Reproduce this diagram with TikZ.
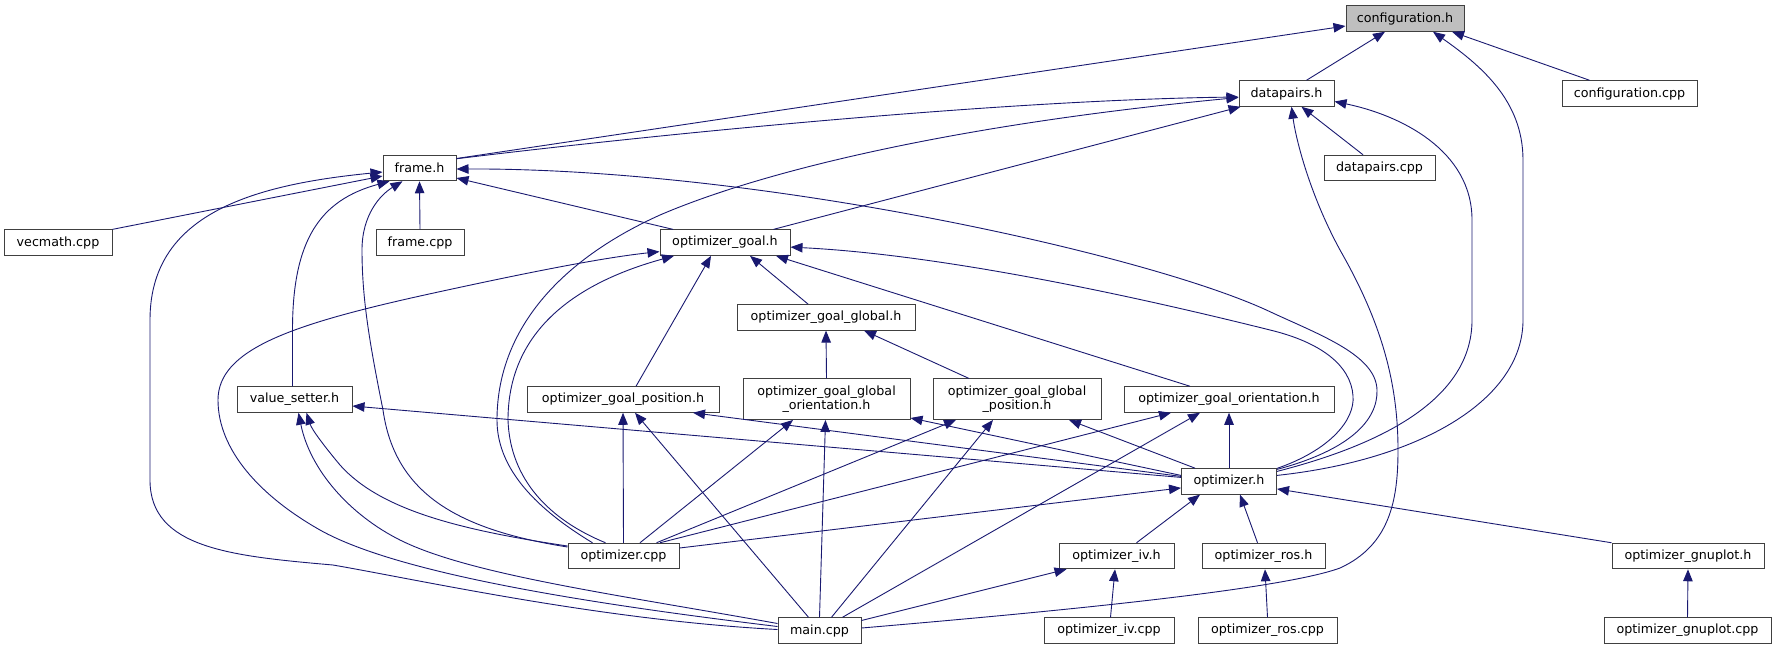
\documentclass[tikz,border=0pt]{standalone}
\usepackage{fontspec}
\setmainfont{DejaVu Sans}
\usetikzlibrary{arrows.meta}
\definecolor{edgeblue}{HTML}{191970}
\definecolor{boxgray}{HTML}{404040}
\definecolor{confgray}{HTML}{BFBFBF}
\newcommand\dxfont{\fontsize{12.7}{14.5}\selectfont}
\tikzset{
  box/.style={draw=boxgray, line width=1pt, rectangle, inner sep=0pt, minimum height=25.5pt, font=\dxfont, text=black, align=center},
  tall/.style={box, minimum height=40.5pt},
  e/.style={draw=edgeblue, line width=0.9pt, -{Triangle[length=12pt,width=9.5pt]}}
}
\begin{document}
\begin{tikzpicture}[x=1pt,y=-1pt]
\useasboundingbox (0,0) rectangle (1777,649);
% nodes
\node[box, fill=confgray, minimum width=118pt] (conf_h) at (1405,18.5) {configuration.h};
\node[box, minimum width=95pt] (datapairs_h) at (1286.5,93.5) {datapairs.h};
\node[box, minimum width=135pt] (conf_cpp) at (1629.5,93.5) {configuration.cpp};
\node[box, minimum width=73pt] (frame_h) at (419.5,168) {frame.h};
\node[box, minimum width=111pt] (datapairs_cpp) at (1379.5,168) {datapairs.cpp};
\node[box, minimum width=108pt] (vecmath_cpp) at (58,242.6) {vecmath.cpp};
\node[box, minimum width=88pt] (frame_cpp) at (420,242.6) {frame.cpp};
\node[box, minimum width=130pt] (goal_h) at (725,242.6) {optimizer\_goal.h};
\node[box, minimum width=178pt] (goal_global_h) at (826,317.3) {optimizer\_goal\_global.h};
\node[box, minimum width=115pt] (value_setter_h) at (294.5,399.5) {value\_setter.h};
\node[box, minimum width=192pt] (goal_pos_h) at (623,399.5) {optimizer\_goal\_position.h};
\node[tall, minimum width=167pt] (goal_glob_orient_h) at (826.5,399.2) {optimizer\_goal\_global\\\_orientation.h};
\node[tall, minimum width=168pt] (goal_glob_pos_h) at (1017,399.2) {optimizer\_goal\_global\\\_position.h};
\node[box, minimum width=210pt] (goal_orient_h) at (1229,399.5) {optimizer\_goal\_orientation.h};
\node[box, minimum width=95pt] (optimizer_h) at (1229,481.4) {optimizer.h};
\node[box, minimum width=111pt] (optimizer_cpp) at (623.5,556) {optimizer.cpp};
\node[box, minimum width=115pt] (iv_h) at (1116.5,556) {optimizer\_iv.h};
\node[box, minimum width=123pt] (ros_h) at (1263.5,556) {optimizer\_ros.h};
\node[box, minimum width=152pt] (gnuplot_h) at (1688,556) {optimizer\_gnuplot.h};
\node[box, minimum width=83pt] (main_cpp) at (819.5,630.5) {main.cpp};
\node[box, minimum width=130pt] (iv_cpp) at (1109,630.5) {optimizer\_iv.cpp};
\node[box, minimum width=139pt] (ros_cpp) at (1267.5,630.5) {optimizer\_ros.cpp};
\node[box, minimum width=167pt] (gnuplot_cpp) at (1687.5,630.5) {optimizer\_gnuplot.cpp};

% straight edges
\draw[e] ([xshift=20pt]datapairs_h.north) -- ([xshift=-20pt]conf_h.south);
\draw[e] ([xshift=-40pt]conf_cpp.north) -- ([xshift=47pt]conf_h.south);
\draw[e] ([yshift=-3.75pt]frame_h.north east) -- ([yshift=-7.5pt]conf_h.west);
\draw[e] ([yshift=-4pt]frame_h.north east) .. controls (650,135) and (1000,100) .. ([yshift=-3.5pt]datapairs_h.west);
\draw[e] (vecmath_cpp.north east) -- ([yshift=-8pt]frame_h.west);
\draw[e] (frame_cpp.north) -- (frame_h.south);
\draw[e] ([xshift=-52pt]goal_h.north) -- ([yshift=-10pt]frame_h.east);
\draw[e] ([xshift=-18pt]goal_global_h.north) -- ([xshift=25pt]goal_h.south);
\draw[e] ([xshift=13pt]goal_pos_h.north) -- ([xshift=-14pt]goal_h.south);
\draw[e] ([xshift=-39pt]goal_orient_h.north) -- ([xshift=51pt]goal_h.south);
\draw[e] ([xshift=-16.5pt]datapairs_cpp.north) -- ([xshift=15pt]datapairs_h.south);
\draw[e] ([xshift=-17pt]goal_h.north east) -- ([xshift=2pt]datapairs_h.south west);
\draw[e] (goal_glob_orient_h.north) -- (goal_global_h.south);
\draw[e] ([xshift=-48pt]goal_glob_pos_h.north) -- ([xshift=38pt]goal_global_h.south);
\draw[e] (optimizer_cpp.north) -- (goal_pos_h.south);
\draw[e] ([xshift=-11pt]main_cpp.north) -- ([xshift=12pt]goal_pos_h.south);
\draw[e] ([yshift=5pt]optimizer_h.west) -- ([xshift=70pt]goal_pos_h.south);
\draw[e] ([yshift=4pt]optimizer_h.west) -- ([yshift=-6.5pt]value_setter_h.east);
\draw[e] ([xshift=16.5pt]optimizer_cpp.north) -- ([xshift=-33.5pt]goal_glob_orient_h.south);
\draw[e] (main_cpp.north) -- ([xshift=-1pt]goal_glob_orient_h.south);
\draw[e] ([yshift=6pt]optimizer_h.west) -- ([yshift=2pt]goal_glob_orient_h.south east);
\draw[e] ([xshift=33pt]optimizer_cpp.north) -- ([xshift=-61pt]goal_glob_pos_h.south);
\draw[e] ([xshift=12pt]main_cpp.north) -- ([xshift=-24pt]goal_glob_pos_h.south);
\draw[e] ([xshift=-34pt]optimizer_h.north) -- ([xshift=52pt]goal_glob_pos_h.south);
\draw[e] ([xshift=36.5pt]optimizer_cpp.north) -- ([xshift=-58pt]goal_orient_h.south);
\draw[e] ([xshift=23pt]main_cpp.north) -- ([xshift=-29pt]goal_orient_h.south);
\draw[e] (optimizer_h.north) -- (goal_orient_h.south);
\draw[e] ([yshift=8pt]optimizer_cpp.east) -- ([yshift=-6.5pt]optimizer_h.west);
\draw[e] ([xshift=20pt]iv_h.north) -- ([xshift=-29pt]optimizer_h.south);
\draw[e] ([xshift=-6pt]ros_h.north) -- ([xshift=11pt]optimizer_h.south);
\draw[e] (gnuplot_h.north west) -- ([yshift=-7.5pt]optimizer_h.east);
\draw[e] ([xshift=1.5pt]iv_cpp.north) -- ([xshift=-1.5pt]iv_h.south);
\draw[e] (ros_cpp.north) -- ([xshift=1.5pt]ros_h.south);
\draw[e] (gnuplot_cpp.north) -- (gnuplot_h.south);
\draw[e] ([yshift=10pt]main_cpp.east) -- ([xshift=-50pt]iv_h.south);

% curved edges
\draw[e] ([yshift=1pt]main_cpp.west) .. controls (600,620) and (420,580) .. (333,565)
  .. controls (230,556) and (150,548) .. (150,480) -- (150,320)
  .. controls (150,215) and (250,185) .. ([yshift=-4pt]frame_h.west);
\draw[e] ([xshift=-2pt]value_setter_h.north) -- (292.5,330)
  .. controls (292.5,240) and (320,200) .. ([xshift=-30pt]frame_h.south);
\draw[e] ([yshift=9pt]optimizer_cpp.west) .. controls (460,530) and (395,495) .. (383,410)
  .. controls (370,345) and (362,300) .. (362,250)
  .. controls (362,215) and (380,195) .. ([xshift=-17pt]frame_h.south);
\draw[e] ([yshift=10pt]optimizer_cpp.west) .. controls (460,530) and (380,510) .. (340,465)
  .. controls (325,447) and (312,430) .. ([xshift=12pt]value_setter_h.south);
\draw[e] ([yshift=7pt]main_cpp.west) .. controls (620,595) and (470,575) .. (400,540)
  .. controls (350,515) and (310,470) .. ([xshift=4pt]value_setter_h.south);
\draw[e] ([yshift=4pt]main_cpp.west) .. controls (600,605) and (400,575) .. (320,530)
  .. controls (260,496) and (218,450) .. (218,400)
  .. controls (218,350) and (290,325) .. (420,296)
  .. controls (520,274) and (600,258) .. ([yshift=-9pt]goal_h.west);
\draw[e] ([xshift=-18pt]optimizer_cpp.north) .. controls (550,520) and (510,480) .. (508,420)
  .. controls (508,350) and (550,290) .. ([xshift=-51pt]goal_h.south);
\draw[e] ([xshift=-31pt]optimizer_cpp.north) .. controls (530,505) and (497,465) .. (497,420)
  .. controls (497,330) and (560,260) .. (660,215)
  .. controls (760,172) and (950,125) .. ([yshift=-4pt]datapairs_h.west);
\draw[e] ([yshift=2.5pt]main_cpp.east) .. controls (1050,612) and (1280,590) .. (1340,568)
  .. controls (1390,545) and (1398,500) .. (1398,450)
  .. controls (1398,380) and (1380,320) .. (1340,250)
  .. controls (1310,195) and (1296,140) .. ([xshift=5pt]datapairs_h.south);
\draw[e] ([yshift=10pt]optimizer_h.east) .. controls (1380,445) and (1472,400) .. (1472,320)
  -- (1472,220) .. controls (1472,150) and (1400,115) .. ([yshift=-8pt]datapairs_h.east);
\draw[e] ([yshift=6pt]optimizer_h.east) .. controls (1420,460) and (1523,400) .. (1523,320)
  -- (1523,160) .. controls (1523,100) and (1480,65) .. ([xshift=28pt]conf_h.south);
\draw[e] ([yshift=12pt]optimizer_h.east) .. controls (1350,450) and (1378,420) .. (1377,390)
  .. controls (1376,355) and (1320,335) .. (1270,311.7)
  .. controls (1150,255) and (760,168) .. ([yshift=-1pt]frame_h.east);
\draw[e] ([yshift=13pt]optimizer_h.east) .. controls (1330,450) and (1355,420) .. (1353,396)
  .. controls (1351,365) and (1320,342) .. (1270,330)
  .. controls (1150,300) and (950,255) .. ([yshift=-4.5pt]goal_h.east);
\end{tikzpicture}
\end{document}
